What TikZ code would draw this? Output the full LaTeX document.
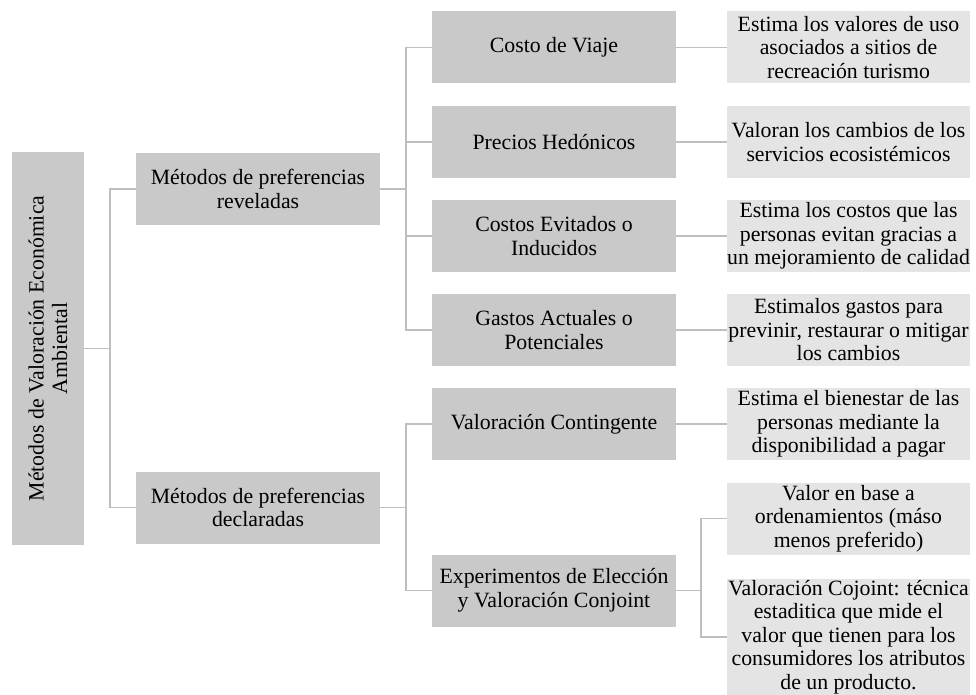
\documentclass[tikz,border=0pt]{standalone}
\usepackage{fontspec}
\setmainfont{Liberation Serif}
\usepackage{xcolor}
\definecolor{boxgray}{RGB}{201,201,201}
\definecolor{infogray}{RGB}{228,228,228}
\definecolor{linegray}{RGB}{190,190,190}

\begin{document}
\begin{tikzpicture}[x=1pt,y=-1pt,
        font=\fontsize{21.8}{23.5}\selectfont,
        box/.style={fill=boxgray, inner sep=0pt, align=center, minimum width=244pt, minimum height=72pt},
        info/.style={fill=infogray, inner sep=0pt, align=center, minimum width=243pt, minimum height=72pt},
        link/.style={draw=linegray, line width=1.5pt}]
            \fill[white] (0,0) rectangle (976,695);
            % root and first level
            \node[box, rotate=90, minimum width=393pt, minimum height=72pt] (root) at (48,348.5)
                {Métodos de Valoración Económica\\Ambiental};
            \node[box] (rev) at (258,189) {Métodos de preferencias\\reveladas};
            \node[box] (dec) at (258,507.5) {Métodos de preferencias\\declaradas};
            % second level
            \node[box] (viaje) at (554,47.5) {Costo de Viaje};
            \node[box] (hedon) at (554,142) {Precios Hedónicos};
            \node[box] (evit) at (554,236) {Costos Evitados o\\Inducidos};
            \node[box] (gastos) at (554,330) {Gastos Actuales o\\Potenciales};
            \node[box] (conting) at (554,424) {Valoración Contingente};
            \node[box] (exper) at (554,590.5) {Experimentos de Elección\\y Valoración Conjoint};
            % descriptions
            \node[info] (dviaje) at (848.5,47.5) {Estima los valores de uso\\asociados a sitios de\\recreación turismo};
            \node[info] (dhedon) at (848.5,142) {Valoran los cambios de los\\servicios ecosistémicos};
            \node[info] (devit) at (848.5,236) {Estima los costos que las\\personas evitan gracias a\\un mejoramiento de calidad};
            \node[info] (dgastos) at (848.5,330) {Estimalos gastos para\\previnir, restaurar o mitigar\\los cambios};
            \node[info] (dconting) at (848.5,424) {Estima el bienestar de las\\personas mediante la\\disponibilidad a pagar};
            \node[info] (dorden) at (848.5,518.5) {Valor en base a\\ordenamientos (máso\\menos preferido)};
            \node[info, minimum height=116pt] (dcoj) at (848.5,637) {Valoración Cojoint: técnica\\estaditica que mide el\\valor que tienen para los\\consumidores los atributos\\de un producto.};
            % connectors
            \draw[link] (root.south) -- ++(26,0) coordinate (j0) |- (rev.west);
            \draw[link] (j0) |- (dec.west);
            \draw[link] (rev.east) -- ++(26,0) coordinate (j1);
            \foreach \n in {viaje,hedon,evit,gastos}
                \draw[link] (j1) |- (\n.west);
            \draw[link] (dec.east) -- ++(26,0) coordinate (j2);
            \foreach \n in {conting,exper}
                \draw[link] (j2) |- (\n.west);
            \foreach \n in {viaje,hedon,evit,gastos,conting}
                \draw[link] (\n.east) -- (d\n.west);
            \draw[link] (exper.east) -- ++(25,0) coordinate (j3) |- (dorden.west);
            \draw[link] (j3) |- (dcoj.west);
        \end{tikzpicture}
\end{document}
